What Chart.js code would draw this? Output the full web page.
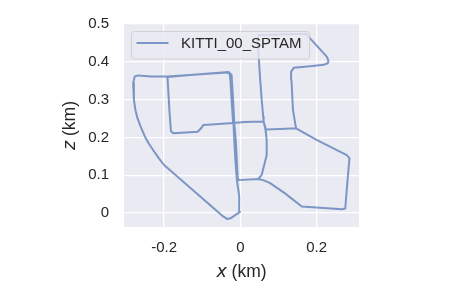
<!DOCTYPE html>
<html>
<head>
<meta charset="utf-8">
<script src="https://cdn.jsdelivr.net/npm/chart.js@4.4.1/dist/chart.umd.min.js"></script>
<style>
html, body { margin: 0; padding: 0; background: #fff; }
</style>
</head>
<body>
<canvas id="traj" width="463" height="300"></canvas>
<script>
const seriesName = 'KITTI_00_SPTAM';

// trajectory, in km (x across, z up)
const xKm = [0.146, 0.138, 0.134, 0.133, 0.140, 0.183, 0.218, 0.229, 0.231, 0.227,
    0.172, 0.049, 0.045, 0.047, 0.052, 0.056, 0.060, 0.061, 0.012, -0.019,
    -0.023, -0.026, -0.028, -0.036, -0.191, -0.233, -0.268, -0.277, -0.281, -0.279,
    -0.275, -0.269, -0.261, -0.251, -0.240, -0.227, -0.213, -0.200, -0.045, -0.034,
    -0.024, -0.001, -0.003, -0.009, -0.013, -0.016, -0.018, -0.066, -0.097, -0.103,
    -0.112, -0.176, -0.182, -0.186, -0.191, -0.132, -0.031, -0.023, -0.019, -0.016,
    -0.012, -0.007, -0.005, 0.047, 0.056, 0.069, 0.069, 0.066, 0.061, 0.067,
    0.104, 0.146, 0.201, 0.279, 0.286, 0.281, 0.275, 0.266, 0.161, 0.117,
    0.078, 0.060, 0.047];
const zKm = [0.224, 0.272, 0.352, 0.374, 0.384, 0.388, 0.392, 0.396, 0.402, 0.413,
    0.474, 0.471, 0.458, 0.431, 0.352, 0.299, 0.254, 0.242, 0.241, 0.238,
    0.299, 0.352, 0.368, 0.372, 0.361, 0.361, 0.364, 0.361, 0.343, 0.299,
    0.272, 0.249, 0.228, 0.204, 0.184, 0.164, 0.144, 0.127, -0.009, -0.016,
    -0.013, 0.003, 0.045, 0.087, 0.140, 0.193, 0.238, 0.235, 0.233, 0.224,
    0.215, 0.211, 0.217, 0.272, 0.360, 0.365, 0.373, 0.365, 0.299, 0.238,
    0.193, 0.093, 0.087, 0.090, 0.101, 0.153, 0.193, 0.220, 0.242, 0.221,
    0.222, 0.224, 0.193, 0.153, 0.145, 0.087, 0.012, 0.010, 0.017, 0.052,
    0.079, 0.087, 0.090];

const xTicks = [-0.2, 0, 0.2];
const xTickLabels = ['-0.2', '0', '0.2'];
const zTicks = [0, 0.1, 0.2, 0.3, 0.4, 0.5];
const zTickLabels = ['0', '0.1', '0.2', '0.3', '0.4', '0.5'];
const xTitle = ['x', ' (km)'];
const zTitle = ['z', ' (km)'];

const lineColor = 'rgba(76,114,176,0.7)';
const textColor = '#262626';
const tickFont = { family: 'Liberation Sans', size: 15 };

const points = xKm.map((x, i) => ({ x: x, y: zKm[i] }));

const axesBg = {
    id: 'axesBg',
    beforeDraw(chart) {
        const { ctx, chartArea: a } = chart;
        ctx.save();
        ctx.fillStyle = '#EAEAF2';
        ctx.fillRect(a.left, a.top, a.right - a.left, a.bottom - a.top);
        ctx.restore();
    }
};

const legendBox = {
    id: 'legendBox',
    afterDatasetsDraw(chart) {
        const { ctx, chartArea: a } = chart;
        ctx.save();
        ctx.font = '15px "Liberation Sans"';
        const tw = ctx.measureText(seriesName).width;
        const x0 = a.left + 7.5, y0 = a.top + 7.5;
        const w = 5 + 32 + 12.5 + tw + 8, h = 27.5;
        ctx.beginPath();
        ctx.roundRect(x0, y0, w, h, 3);
        ctx.fillStyle = 'rgba(234,234,242,0.8)';
        ctx.fill();
        ctx.strokeStyle = 'rgba(204,204,204,0.8)';
        ctx.lineWidth = 1;
        ctx.stroke();
        ctx.beginPath();
        ctx.moveTo(x0 + 5, y0 + 11.5);
        ctx.lineTo(x0 + 37, y0 + 11.5);
        ctx.strokeStyle = lineColor;
        ctx.lineWidth = 2;
        ctx.stroke();
        ctx.fillStyle = textColor;
        ctx.textBaseline = 'middle';
        ctx.fillText(seriesName, x0 + 49.5, y0 + 12.5);
        ctx.restore();
    }
};

// axis titles with an italic variable, like matplotlib mathtext
function drawTitle(ctx, parts, cx, cy, rotate) {
    const fItal = 'italic 17.5px "DejaVu Sans"';
    const fReg = '17.5px "Liberation Sans"';
    ctx.font = fItal;
    const w1 = ctx.measureText(parts[0]).width;
    ctx.font = fReg;
    const w2 = ctx.measureText(parts[1]).width;
    ctx.save();
    ctx.translate(cx, cy);
    if (rotate) ctx.rotate(-Math.PI / 2);
    ctx.fillStyle = textColor;
    ctx.textBaseline = 'alphabetic';
    ctx.textAlign = 'left';
    const start = -(w1 + w2) / 2;
    ctx.font = fItal;
    ctx.fillText(parts[0], start, 5);
    ctx.font = fReg;
    ctx.fillText(parts[1], start + w1, 5);
    ctx.restore();
}

const axisTitles = {
    id: 'axisTitles',
    afterDraw(chart) {
        const { ctx, chartArea: a } = chart;
        drawTitle(ctx, xTitle, (a.left + a.right) / 2, 272, false);
        drawTitle(ctx, zTitle, 70, (a.top + a.bottom) / 2, true);
    }
};

new Chart(document.getElementById('traj'), {
    type: 'scatter',
    data: {
        datasets: [{
            label: seriesName,
            data: points,
            showLine: true,
            borderColor: lineColor,
            borderWidth: 2,
            borderJoinStyle: 'round',
            borderCapStyle: 'round',
            pointRadius: 0,
            pointHoverRadius: 0,
            tension: 0
        }]
    },
    options: {
        responsive: false,
        devicePixelRatio: 1,
        animation: false,
        events: [],
        layout: { padding: { left: 0, right: 104, top: 24, bottom: 0 } },
        plugins: {
            legend: { display: false },
            tooltip: { enabled: false }
        },
        scales: {
            x: {
                type: 'linear',
                min: -0.305,
                max: 0.311,
                afterFit: s => { s.height = 73; },
                afterBuildTicks: s => { s.ticks = xTicks.map(v => ({ value: v })); },
                grid: { color: '#ffffff', lineWidth: 1.3, drawTicks: false },
                border: { display: false },
                ticks: {
                    font: tickFont,
                    color: textColor,
                    padding: 12,
                    maxRotation: 0,
                    autoSkip: false,
                    callback: (v, i) => xTickLabels[i]
                }
            },
            y: {
                type: 'linear',
                min: -0.037,
                max: 0.5,
                afterFit: s => { s.width = 124; },
                afterBuildTicks: s => { s.ticks = zTicks.map(v => ({ value: v })); },
                grid: { color: '#ffffff', lineWidth: 1.3, drawTicks: false },
                border: { display: false },
                ticks: {
                    font: tickFont,
                    color: textColor,
                    padding: 15,
                    autoSkip: false,
                    callback: (v, i) => zTickLabels[i]
                }
            }
        }
    },
    plugins: [axesBg, legendBox, axisTitles]
});
</script>
</body>
</html>
